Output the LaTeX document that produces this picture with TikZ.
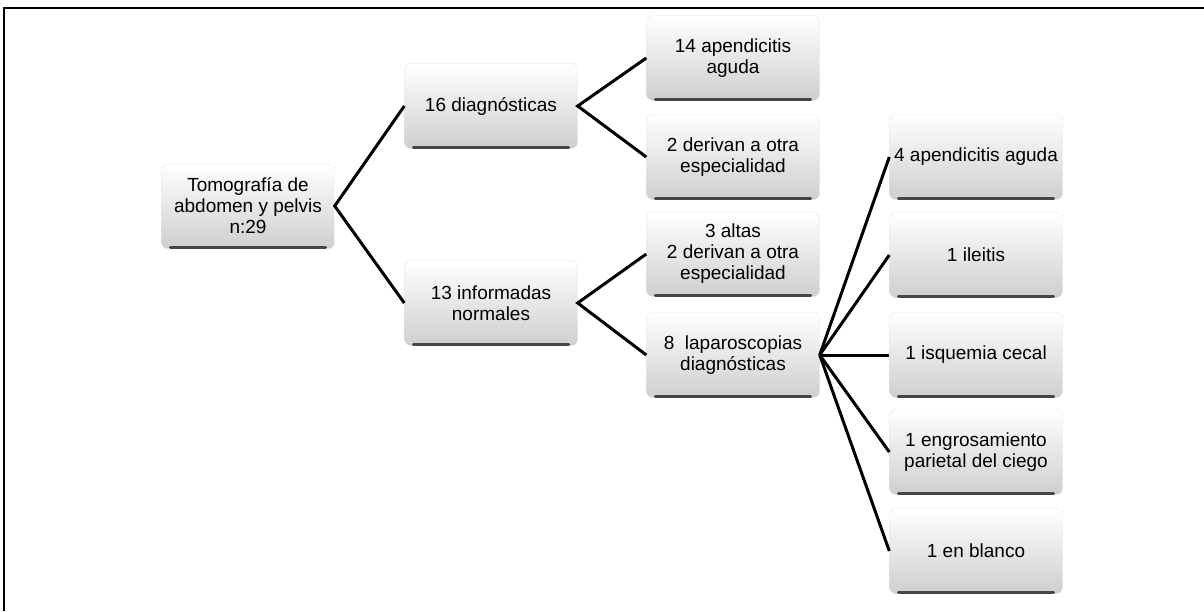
\documentclass[tikz,border=0pt]{standalone}
\usepackage{fontspec}
\setmainfont{Liberation Sans}
\begin{document}
\begin{tikzpicture}[x=1pt,y=-1pt,
  caja/.style={rounded corners=6pt, draw=gray!20, top color=white, middle color=gray!4,
    bottom color=gray!38, minimum width=173pt, minimum height=85pt, inner sep=2pt,
    align=center, text=black, font=\fontsize{19}{21}\selectfont},
  borde/.style={line width=2.6pt, gray!55!black, line cap=round},
  rama/.style={line width=3pt}]
\useasboundingbox (0,0) rectangle (1204,611);
\draw[line width=1.5pt] (4,611) -- (4,8) -- (1204,8);

\node[caja] (tomo) at (248,206) {Tomografía de\\abdomen y pelvis\\n:29};
\node[caja] (diag) at (491,106) {16 diagnósticas};
\node[caja] (infor) at (491,303) {13 informadas\\normales};
\node[caja] (apend) at (733,58) {14 apendicitis\\aguda};
\node[caja] (deriv) at (733,157) {2 derivan a otra\\especialidad};
\node[caja] (altas) at (733,254) {3 altas\\2 derivan a otra\\especialidad};
\node[caja] (lapar) at (733,355) {8\ \ laparoscopias\\diagnósticas};
\node[caja] (r1) at (976,157) {4\ apendicitis aguda};
\node[caja] (r2) at (976,255) {1 ileitis};
\node[caja] (r3) at (976,355) {1 isquemia cecal};
\node[caja] (r4) at (976,452) {1 engrosamiento\\parietal del ciego};
\node[caja] (r5) at (976,551) {1 en blanco};

\foreach \n in {tomo,diag,infor,apend,deriv,altas,lapar,r1,r2,r3,r4,r5}
  \draw[borde] ([xshift=9pt,yshift=1.3pt]\n.south west) -- ([xshift=-9pt,yshift=1.3pt]\n.south east);

\draw[rama] (diag.west) -- (tomo.east) -- (infor.west);
\draw[rama] (apend.west) -- (diag.east) -- (deriv.west);
\draw[rama] (altas.west) -- (infor.east) -- (lapar.west);
\foreach \n in {r1,r2,r3,r4,r5}
  \draw[rama] (lapar.east) -- (\n.west);
\end{tikzpicture}
\end{document}
